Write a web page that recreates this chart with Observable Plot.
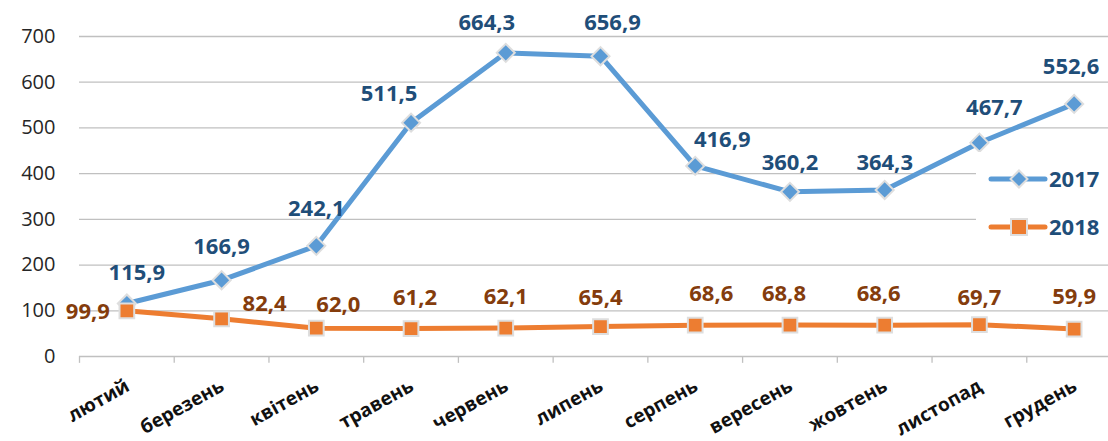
<!DOCTYPE html>
<html>
<head>
<meta charset="utf-8">
<script src="https://cdn.jsdelivr.net/npm/d3@7"></script>
<script src="https://cdn.jsdelivr.net/npm/@observablehq/plot@0.6"></script>
<style>
  body { margin: 0; background: white; }
  #wrap { position: relative; width: 1108px; height: 441px; overflow: hidden; }
  #legend { position: absolute; left: 976px; top: 152px; width: 132px; height: 92px; background: white; }
</style>
</head>
<body>
<div id="wrap"></div>
<script>
const months = ["лютий","березень","квітень","травень","червень","липень","серпень","вересень","жовтень","листопад","грудень"];
const values2017 = [115.9,166.9,242.1,511.5,664.3,656.9,416.9,360.2,364.3,467.7,552.6];
const values2018 = [99.9,82.4,62.0,61.2,62.1,65.4,68.6,68.8,68.6,69.7,59.9];
const yTicks = [0,100,200,300,400,500,600,700];
const seriesNames = ["2017","2018"];

// label placement offsets (pixels), styling only
const dx2017 = [10,0,0,-22,-19,12,27,0,0,15,-3];
const dy2017 = [-31,-33,-37,-29,-30,-33,-26,-29,-27,-35,-37];
const dx2018 = [-39,43,22,4,0,0,16,-6,-6,0,0];
const dy2018 = [1,-15,-23,-31,-31,-29,-31,-31,-31,-27,-32];

const rows = months.map((m, i) => ({i, month: m, v17: values2017[i], v18: values2018[i]}));
const fmt = v => d3.format(".1f")(v).replace(".", ",");
const boundaries = d3.range(months.length + 1).map(i => i - 0.5);

const blue = "#5b9bd5", orange = "#ed7d31", blueText = "#1f4e79", brownText = "#843c0c";

const labels17 = rows.map((r, i) => Plot.text([r], {x: "i", y: "v17", text: d => fmt(d.v17),
  dx: dx2017[i], dy: dy2017[i], fontSize: 22, fontWeight: "bold", fill: blueText}));
const labels18 = rows.map((r, i) => Plot.text([r], {x: "i", y: "v18", text: d => fmt(d.v18),
  dx: dx2018[i], dy: dy2018[i], fontSize: 22, fontWeight: "bold", fill: brownText}));

const chart = Plot.plot({
  width: 1108,
  height: 441,
  marginLeft: 79,
  marginRight: 0,
  marginTop: 36,
  marginBottom: 85,
  style: {fontFamily: "'Open Sans', sans-serif", background: "white"},
  x: {type: "linear", domain: [-0.5, months.length - 0.5], range: [79, 1121], axis: null},
  y: {domain: [0, 700]},
  marks: [
    Plot.ruleY(yTicks.slice(1), {stroke: "#c0c0c0", strokeWidth: 1.3}),
    Plot.ruleY([0], {stroke: "#c0c0c0", strokeWidth: 1.3}),
    Plot.ruleX(boundaries, {x: d => d, y1: 0, y2: -15, stroke: "#c0c0c0", strokeWidth: 1.3}),
    Plot.axisY({ticks: yTicks, tickSize: 0, tickPadding: 24, fontSize: 20, color: "#262626", label: null}),
    Plot.text(rows, {x: "i", text: "month", frameAnchor: "bottom", dy: 28, dx: 1, rotate: -29,
      textAnchor: "end", lineAnchor: "middle", fontSize: 19, fontWeight: "bold", fill: "#111"}),
    Plot.line(rows, {x: "i", y: "v17", stroke: blue, strokeWidth: 5, strokeLinejoin: "round"}),
    Plot.dot(rows, {x: "i", y: "v17", symbol: "square", r: 7.2, rotate: 45, fill: blue, stroke: "#dedede", strokeWidth: 2}),
    Plot.line(rows, {x: "i", y: "v18", stroke: orange, strokeWidth: 5, strokeLinejoin: "round"}),
    Plot.dot(rows, {x: "i", y: "v18", symbol: "square", r: 8.3, fill: orange, stroke: "#dedede", strokeWidth: 2}),
    ...labels17,
    ...labels18
  ]
});
document.getElementById("wrap").appendChild(chart);

// legend
const legend = document.createElement("div");
legend.id = "legend";
legend.innerHTML = `
<svg width="132" height="92" style="font-family:'Open Sans',sans-serif">
  <line x1="15" x2="69" y1="27" y2="27" stroke="${blue}" stroke-width="5" stroke-linecap="round"/>
  <rect x="37" y="21" width="12" height="12" fill="${blue}" stroke="#dedede" stroke-width="2" transform="rotate(45 43 27)"/>
  <text x="73" y="27" dy="0.35em" font-size="22" font-weight="bold" fill="${blueText}">${seriesNames[0]}</text>
  <line x1="15" x2="69" y1="75" y2="75" stroke="${orange}" stroke-width="5" stroke-linecap="round"/>
  <rect x="35" y="67" width="16" height="16" fill="${orange}" stroke="#dedede" stroke-width="2"/>
  <text x="73" y="75" dy="0.35em" font-size="22" font-weight="bold" fill="${blueText}">${seriesNames[1]}</text>
</svg>`;
document.getElementById("wrap").appendChild(legend);
</script>
</body>
</html>
